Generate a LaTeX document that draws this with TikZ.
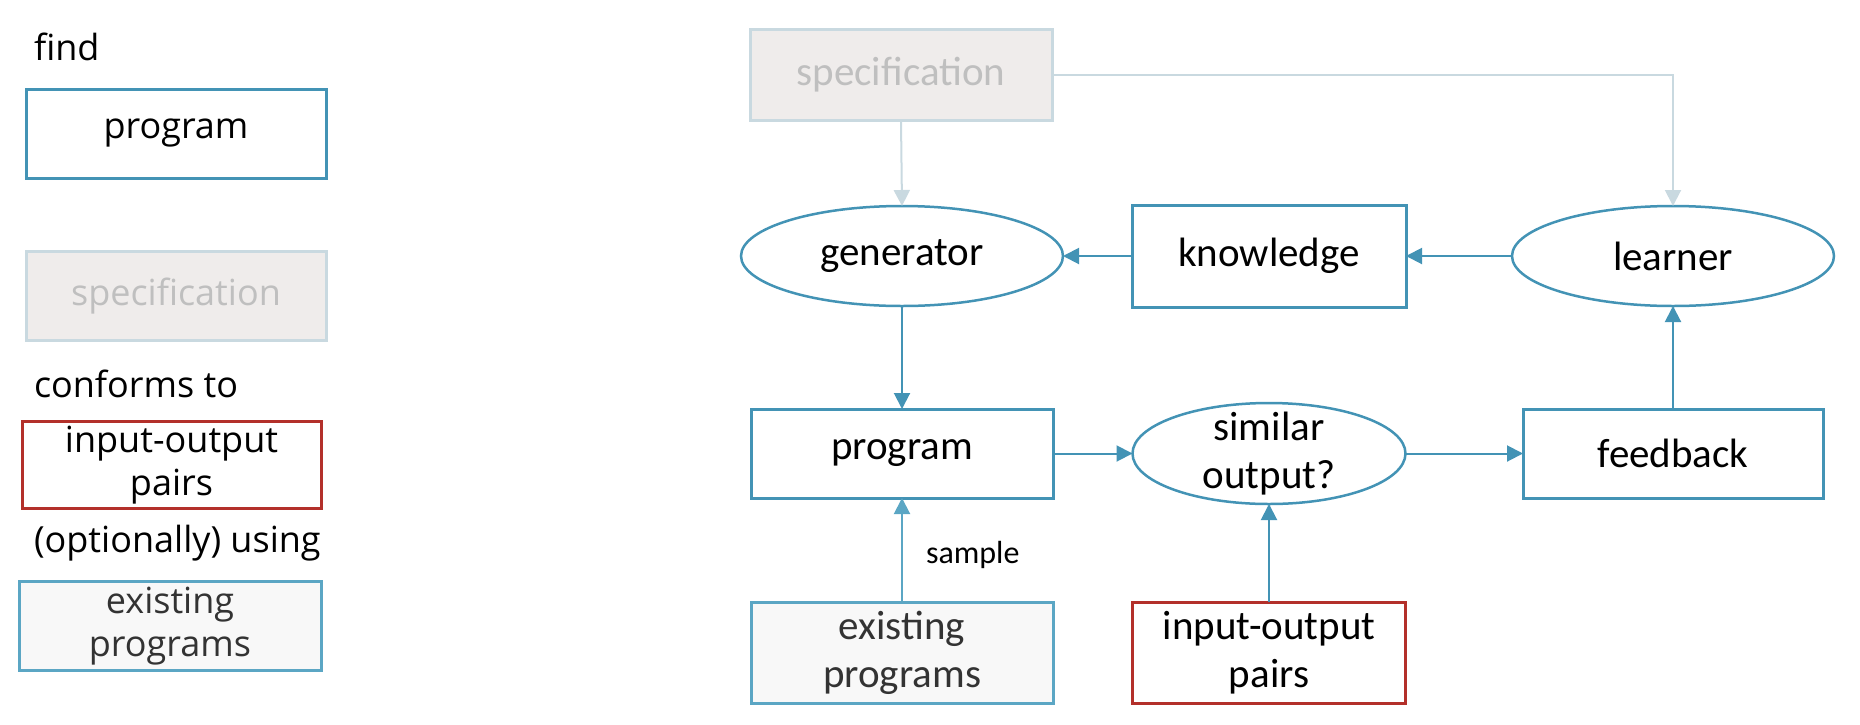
\documentclass[tikz,border=0pt]{standalone}
\usepackage{fontspec}
\setmainfont{Carlito}
\newfontfamily\legendfont{Open Sans}
\usetikzlibrary{shapes.geometric,arrows.meta}
\definecolor{mainblue}{HTML}{4393B5}
\definecolor{lightblue}{HTML}{5BA6C4}
\definecolor{specborder}{HTML}{C9D9E0}
\definecolor{specfill}{HTML}{EFECEB}
\definecolor{spectext}{HTML}{BFBFBF}
\definecolor{iored}{HTML}{B3302A}
\definecolor{exfill}{HTML}{F8F8F8}
\definecolor{extext}{HTML}{333333}
\begin{document}
\begin{tikzpicture}[x=0.5pt,y=-0.5pt,
  every node/.style={inner sep=0pt,outer sep=0pt},
  rfont/.style={font=\fontsize{20.5}{24}\selectfont},
  lfont/.style={font=\legendfont\fontsize{18}{21.5}\selectfont},
  bluebox/.style={draw=mainblue,line width=1.5pt,fill=white,align=center},
  specbox/.style={draw=specborder,line width=1.5pt,fill=specfill,text=spectext,align=center},
  redbox/.style={draw=iored,line width=1.5pt,fill=white,align=center},
  exbox/.style={draw=lightblue,line width=1.5pt,fill=exfill,text=extext,align=center},
  blueell/.style={ellipse,draw=mainblue,line width=1.25pt,fill=white},
  arr/.style={draw=mainblue,line width=1pt,-{Triangle[length=8pt,width=8pt]}},
  specarr/.style={draw=specborder,line width=1pt,-{Triangle[length=8pt,width=8pt]}},
  exarr/.style={draw=lightblue,line width=1pt,-{Triangle[length=8pt,width=8pt]}}
]
\useasboundingbox (0,0) rectangle (1860,724);

% ---------- legend ----------
\node[lfont,anchor=base west] (lfind) at (34,60) {find};
\node[bluebox,lfont,minimum width=150pt,minimum height=44.5pt] (lprog) at (176,133.5) {program};
\node[specbox,lfont,minimum width=150pt,minimum height=44.5pt] (lspec) at (176,296) {specification};
\node[lfont,anchor=base west] (lconf) at (34,397) {conforms to};
\node[redbox,lfont,minimum width=149.5pt,minimum height=43.5pt] (lio) at (171.5,465) {input-output\\pairs};
\node[lfont,anchor=base west] (lopt) at (34,552) {(optionally) using};
\node[exbox,lfont,minimum width=151pt,minimum height=44.5pt] (lex) at (170,626) {existing\\programs};

% ---------- diagram ----------
\node[specbox,rfont,minimum width=151pt,minimum height=45.5pt] (spec) at (901,75) {specification};
\node[blueell,minimum width=161pt,minimum height=50pt,label={[rfont]center:generator}] (gen) at (902,256) {};
\node[bluebox,rfont,minimum width=137pt,minimum height=51pt] (know) at (1269,256) {knowledge};
\node[blueell,minimum width=161pt,minimum height=50pt,label={[rfont]center:learner}] (learn) at (1673,256) {};
\node[bluebox,rfont,minimum width=151pt,minimum height=44.5pt] (prog) at (902,453.5) {program};
\node[blueell,minimum width=136.5pt,minimum height=50.5pt,label={[rfont,align=center]center:similar\\output?}] (sim) at (1269,453.5) {};
\node[bluebox,rfont,minimum width=150pt,minimum height=44.5pt] (fb) at (1673,453.5) {feedback};
\node[exbox,rfont,minimum width=151pt,minimum height=50.5pt] (ex) at (902,652.5) {existing\\programs};
\node[redbox,rfont,minimum width=136.5pt,minimum height=50.5pt] (io) at (1269,652.5) {input-output\\pairs};

\draw[specarr] (spec.south) -- (gen.north);
\draw[specarr] (spec.east) -| (learn.north);
\draw[arr] (learn.west) -- (know.east);
\draw[arr] (know.west) -- (gen.east);
\draw[arr] (gen.south) -- (prog.north);
\draw[exarr] (ex.north) -- node[pos=0.45,right=12pt,font=\fontsize{16}{19}\selectfont] (samp) {sample} (prog.south);
\draw[arr] (prog.east) -- (sim.west);
\draw[arr] (io.north) -- (sim.south);
\draw[arr] (sim.east) -- (fb.west);
\draw[arr] (fb.north) -- (learn.south);
\end{tikzpicture}
\end{document}
